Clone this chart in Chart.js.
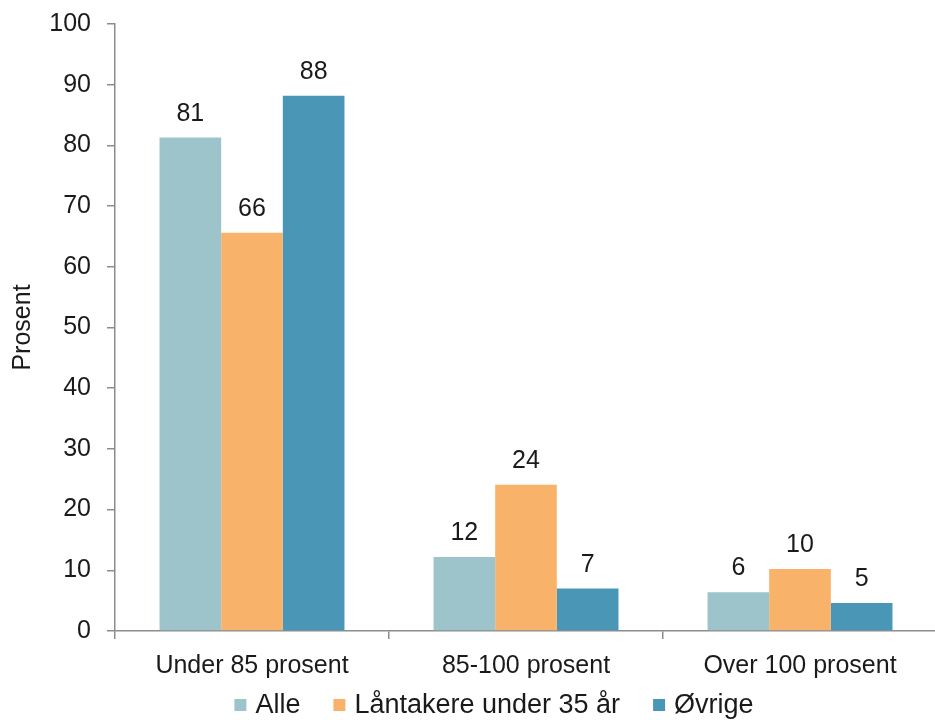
<!DOCTYPE html>
<html>
<head>
<meta charset="utf-8">
<script src="https://cdn.jsdelivr.net/npm/chart.js@4/dist/chart.umd.min.js"></script>
<style>
  html, body { margin: 0; padding: 0; background: #fff; overflow: hidden; }
  #wrap { width: 940px; height: 720px; position: relative; }
</style>
</head>
<body>
<div id="wrap"><canvas id="c"></canvas></div>
<script>
const categories = ['Under 85 prosent', '85-100 prosent', 'Over 100 prosent'];
const seriesNames = ['Alle', 'Låntakere under 35 år', 'Øvrige'];
const alle = [81.3, 12.2, 6.4];
const laantakere = [65.6, 24.1, 10.2];
const ovrige = [88.2, 7.0, 4.6];
const yTicks = [0, 10, 20, 30, 40, 50, 60, 70, 80, 90, 100];
const colors = ['#9DC4CA', '#F8B26A', '#4A96B7'];

const FONT = '"Liberation Sans", Arial, sans-serif';
const TXT = '#1a1a1a';
const AX = '#8c8c8c';

const valueLabels = {
  id: 'valueLabels',
  afterDatasetsDraw(chart) {
    const ctx = chart.ctx;
    ctx.save();
    ctx.font = '25px ' + FONT;
    ctx.fillStyle = TXT;
    ctx.textAlign = 'center';
    ctx.textBaseline = 'alphabetic';
    chart.data.datasets.forEach((ds, i) => {
      const meta = chart.getDatasetMeta(i);
      meta.data.forEach((el, j) => {
        ctx.fillText(String(Math.round(ds.data[j])), el.x, el.y - 17);
      });
    });
    ctx.restore();
  }
};

// Legend drawn below the axis: square swatch + label for each dataset
const bottomLegend = {
  id: 'bottomLegend',
  afterDraw(chart) {
    const ctx = chart.ctx;
    const box = 12, gap = 9, spacing = 33, centerX = 494, midY = 705;
    ctx.save();
    ctx.font = '27px ' + FONT;
    ctx.textBaseline = 'middle';
    ctx.textAlign = 'left';
    const items = chart.data.datasets.map(ds => ({
      text: ds.label, color: ds.backgroundColor, w: ctx.measureText(ds.label).width
    }));
    const total = items.reduce((s, it) => s + box + gap + it.w, 0) + spacing * (items.length - 1);
    let x = centerX - total / 2;
    items.forEach(it => {
      ctx.fillStyle = it.color;
      ctx.fillRect(x, midY - box / 2, box, box);
      ctx.fillStyle = TXT;
      ctx.fillText(it.text, x + box + gap, midY + 1);
      x += box + gap + it.w + spacing;
    });
    ctx.restore();
  }
};

new Chart(document.getElementById('c'), {
  type: 'bar',
  data: {
    labels: categories,
    datasets: [
      { label: seriesNames[0], data: alle, backgroundColor: colors[0] },
      { label: seriesNames[1], data: laantakere, backgroundColor: colors[1] },
      { label: seriesNames[2], data: ovrige, backgroundColor: colors[2] }
    ]
  },
  options: {
    responsive: true,
    maintainAspectRatio: false,
    animation: false,
    datasets: { bar: { categoryPercentage: 0.675, barPercentage: 1.0, borderWidth: 0 } },
    layout: { padding: { top: 3, right: 3, left: 0, bottom: 27 } },
    plugins: {
      legend: { display: false },
      tooltip: { enabled: false }
    },
    scales: {
      x: {
        grid: { display: true, drawOnChartArea: false, drawTicks: true, tickLength: 8, color: AX, lineWidth: 1.5, offset: true },
        border: { display: true, color: AX, width: 1.5 },
        ticks: { color: TXT, font: { family: FONT, size: 25 }, padding: 12, maxRotation: 0 }
      },
      y: {
        min: 0, max: 100,
        afterBuildTicks(scale) { scale.ticks = yTicks.map(v => ({ value: v })); },
        afterFit(scale) { scale.width = 115; },
        grid: { display: true, drawOnChartArea: false, drawTicks: true, tickLength: 8, color: AX, lineWidth: 1.5 },
        border: { display: true, color: AX, width: 1.5 },
        ticks: { color: TXT, font: { family: FONT, size: 25, lineHeight: 0.64 }, padding: 16 },
        title: { display: true, text: 'Prosent', color: TXT, font: { family: FONT, size: 25 }, padding: { top: 8, bottom: 11 } }
      }
    }
  },
  plugins: [valueLabels, bottomLegend]
});
</script>
</body>
</html>
